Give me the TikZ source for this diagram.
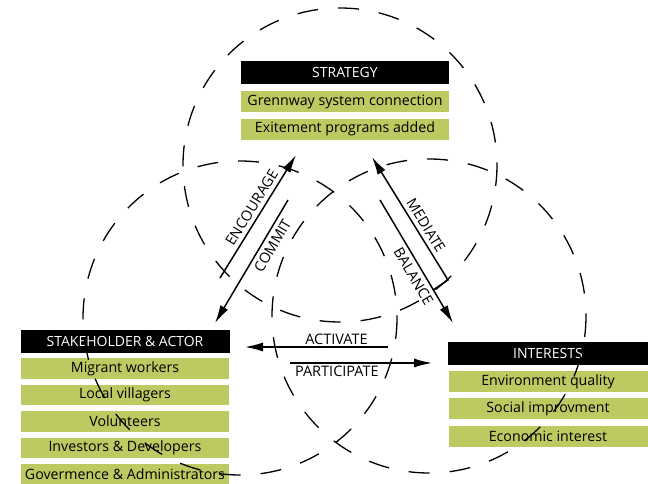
\documentclass[tikz,border=0pt]{standalone}
\usepackage{fontspec}
\setmainfont{Open Sans}
\usetikzlibrary{arrows.meta,positioning}
\definecolor{leaf}{RGB}{189,202,98}

\begin{document}
\begin{tikzpicture}[x=1pt,y=-1pt,>={Latex[length=18pt,width=9pt]},
  head/.style={fill=black,text=white,minimum height=23pt,inner sep=0pt,
    font=\fontsize{14}{15}\selectfont},
  item/.style={fill=leaf,text=black,minimum height=21pt,inner sep=0pt,
    font=\fontsize{14.2}{16}\selectfont},
  ring/.style={line width=1.3pt,dash pattern=on 21pt off 20pt},
  link/.style={line width=1.5pt,->},
  tag/.style={font=\fontsize{14.5}{15}\selectfont,sloped,inner sep=1pt}]
  \useasboundingbox (0,0) rectangle (648,484);

  % ================= strategy =================
  \node[head,minimum width=208pt] (strat) at (345,72.5) {STRATEGY};
  \node[item,minimum width=208pt,below=7pt of strat] (green) {Grennway system connection};
  \node[item,minimum width=208pt,below=6pt of green] (excite) {Exitement programs added};

  % ================= stakeholder & actor =================
  \node[head,minimum width=209pt] (actor) at (125,341) {STAKEHOLDER \& ACTOR};
  \node[item,minimum width=208pt,minimum height=20.5pt,below=5.5pt of actor] (migrant) {Migrant workers};
  \node[item,minimum width=208pt,minimum height=20.5pt,below=5.5pt of migrant] (local) {Local villagers};
  \node[item,minimum width=208pt,minimum height=20.5pt,below=5.5pt of local] (volun) {Volunteers};
  \node[item,minimum width=208pt,minimum height=20.5pt,below=5.5pt of volun] (invest) {Investors \& Developers};
  \node[item,minimum width=208pt,minimum height=20.5pt,below=5.5pt of invest] (govern) {Govermence \& Administrators};

  % ================= interests =================
  \node[head,minimum width=200pt] (inter) at (548,353) {INTERESTS};
  \node[item,minimum width=199pt,below=6pt of inter] (envir) {Environment quality};
  \node[item,minimum width=199pt,below=6pt of envir] (social) {Social improvment};
  \node[item,minimum width=199pt,below=6pt of social] (econ) {Economic interest};

  % ================= dashed rings =================
  \draw[ring] (340,165) circle (157);
  \draw[ring] (240,318) circle (157);
  \draw[ring] (429,316) circle (157);

  % ================= arrow ends =================
  \coordinate (enc-a) at (220,278);
  \coordinate (enc-b) at (296,155);
  \coordinate (com-a) at (288,200);
  \coordinate (com-b) at (215,323);
  \coordinate (med-a) at (433,290);
  \coordinate (med-k) at (448,280);
  \coordinate (med-b) at (372,157);
  \coordinate (bal-a) at (380,200);
  \coordinate (bal-b) at (453,323);
  \coordinate (act-a) at (388,347);
  \coordinate (act-b) at (245,347);
  \coordinate (par-a) at (290,363);
  \coordinate (par-b) at (432,363);

  % ================= arrows =================
  \draw[link] (enc-a) -- (enc-b) node[tag,pos=0.53,above=3pt] {ENCOURAGE};
  \draw[link] (com-a) -- (com-b) node[tag,pos=0.33,below=3pt] {COMMIT};
  \draw[link] (med-a) -- (med-k) -- (med-b) node[tag,pos=0.4,above=3pt] {MEDIATE};
  \draw[link] (bal-a) -- (bal-b) node[tag,pos=0.58,below=3pt] {BALANCE};
  \draw[link] (act-a) -- (act-b) node[tag,pos=0.36,above=1pt] {ACTIVATE};
  \draw[link] (par-a) -- (par-b) node[tag,pos=0.33,below=1pt] {PARTICIPATE};

\end{tikzpicture}
\end{document}
